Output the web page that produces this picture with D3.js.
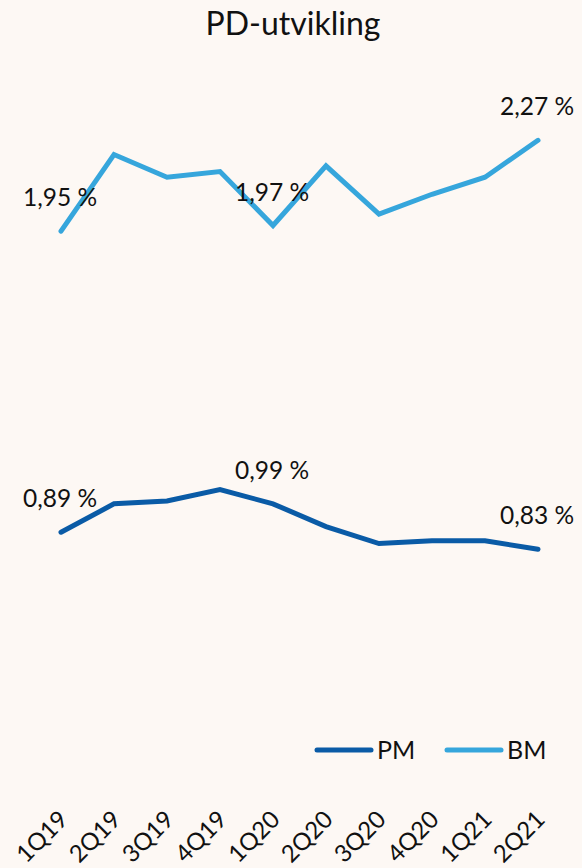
<!DOCTYPE html>
<html>
<head>
<meta charset="utf-8">
<script src="https://cdn.jsdelivr.net/npm/d3@7"></script>
<style>
  html, body { margin: 0; padding: 0; background: #FDF8F4; }
  svg { display: block; }
  text { font-family: Lato, "Open Sans", sans-serif; fill: #111; }
</style>
</head>
<body>
<div id="chart"></div>
<script>
const title = "PD-utvikling";
const quarters = ["1Q19","2Q19","3Q19","4Q19","1Q20","2Q20","3Q20","4Q20","1Q21","2Q21"];
const pmValues = [0.89, 0.99, 1.00, 1.04, 0.99, 0.91, 0.85, 0.86, 0.86, 0.83];
const bmValues = [1.95, 2.22, 2.14, 2.16, 1.97, 2.18, 2.01, 2.08, 2.14, 2.27];
const labelledQuarters = ["1Q19", "1Q20", "2Q21"];
const seriesNames = ["PM", "BM"];
const seriesColors = ["#0A5BA6", "#36A6DC"];

const W = 582, H = 868;
const svg = d3.select("#chart").append("svg").attr("width", W).attr("height", H);
svg.append("rect").attr("width", W).attr("height", H).attr("fill", "#FDF8F4");

const x = d3.scalePoint().domain(quarters).range([61, 538]);
const y = d3.scaleLinear().domain([0, 2.5]).range([785, 75]);

svg.append("text").attr("x", 293).attr("y", 35).attr("text-anchor", "middle")
  .attr("font-size", 32).text(title);

const series = [
  {name: seriesNames[0], values: pmValues, color: seriesColors[0]},
  {name: seriesNames[1], values: bmValues, color: seriesColors[1]}
];

const line = d3.line().x((d, i) => x(quarters[i])).y(d => y(d));
const fmt = v => d3.format(".2f")(v).replace(".", ",") + " %";

series.forEach(s => {
  svg.append("path").datum(s.values).attr("d", line)
    .attr("fill", "none").attr("stroke", s.color).attr("stroke-width", 5)
    .attr("stroke-linecap", "round").attr("stroke-linejoin", "miter");
  svg.selectAll(null).data(s.values.map((v, i) => ({v, q: quarters[i]}))
      .filter(d => labelledQuarters.includes(d.q)))
    .enter().append("text")
    .attr("x", d => x(d.q) - 1).attr("y", d => y(d.v) - 25)
    .attr("text-anchor", "middle").attr("font-size", 24.5)
    .text(d => fmt(d.v));
});

// x axis labels
const xAxis = d3.axisBottom(x).tickSize(0).tickPadding(0);
const gx = svg.append("g").attr("transform", "translate(0,815)").call(xAxis);
gx.select(".domain").remove();
gx.selectAll("text")
  .attr("font-size", 24).attr("font-family", "Lato, sans-serif").attr("fill", "#111")
  .attr("text-anchor", "end").attr("dy", "0.35em")
  .attr("transform", "translate(2,0) rotate(-45)");

// legend
const legend = svg.append("g");
const legX = [317, 447];
series.forEach((s, i) => {
  legend.append("line").attr("x1", legX[i]).attr("x2", legX[i] + 54)
    .attr("y1", 750).attr("y2", 750).attr("stroke", s.color)
    .attr("stroke-width", 5).attr("stroke-linecap", "round");
  legend.append("text").attr("x", legX[i] + 60).attr("y", 759)
    .attr("font-size", 25).text(s.name);
});
</script>
</body>
</html>
